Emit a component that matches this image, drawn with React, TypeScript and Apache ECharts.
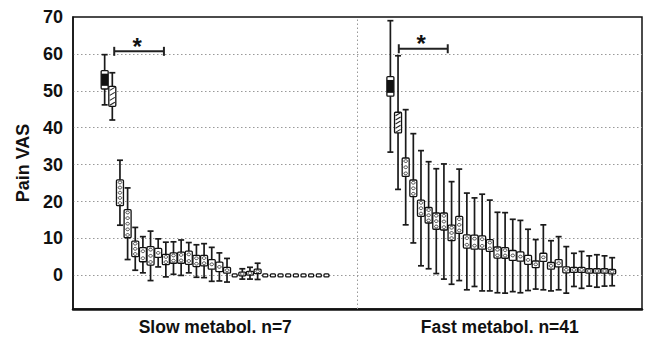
import React, { useEffect, useRef } from "react";
import * as echarts from "echarts";

// Panel (group) labels
const panelLabels = ["Slow metabol. n=7", "Fast metabol. n=41"];
const yAxisName = "Pain VAS";

// Slow metabolizers: mean, SE (box half-height), SD (whisker half-length) per time point
const slowMean = [53, 48.5, 22.4, 14, 7.2, 5.6, 5.3, 6.1, 4.3, 4.7, 4.8, 4.8, 3.9, 4.0, 3.0, 2.3, 1.4, 0, 0.4, 0.6, 1.1, 0, 0, 0, 0, 0, 0, 0, 0, 0];
const slowSE = [2.5, 2.7, 3.5, 3.8, 2.1, 1.9, 2.5, 1.2, 1.4, 1.4, 1.5, 1.8, 1.5, 1.4, 1.3, 1.3, 0.8, 0.4, 0.5, 0.5, 0.6, 0.4, 0.4, 0.4, 0.4, 0.4, 0.4, 0.4, 0.4, 0.4];
const slowSD = [6.8, 6.4, 8.8, 9.7, 5.8, 4.9, 6.7, 3.8, 4.7, 4.4, 4.8, 4.1, 4.4, 4.6, 4.6, 3.8, 3.2, 0, 1.4, 1.6, 2.2, 0, 0, 0, 0, 0, 0, 0, 0, 0];

// Fast metabolizers
const fastMean = [51.2, 41.4, 29.3, 23.6, 18.2, 16.3, 14.7, 14.6, 11.5, 13.7, 9.2, 9.0, 8.9, 8.1, 6.2, 6.1, 5.4, 5.1, 4.2, 3.0, 4.9, 2.6, 3.3, 1.5, 1.5, 1.5, 1.2, 1.2, 1.2, 1.0];
const fastSE = [2.65, 2.8, 2.5, 2.25, 2.2, 2.1, 2.2, 2.3, 2.1, 2.3, 1.8, 1.9, 1.8, 1.6, 1.5, 1.45, 1.35, 1.25, 1.2, 0.9, 1.1, 0.9, 1.0, 0.8, 0.7, 0.7, 0.6, 0.6, 0.6, 0.6];
const fastSD = [17.8, 18.1, 15.6, 14.8, 15.6, 14.5, 14.2, 15.6, 13.9, 15.1, 13.1, 12.0, 13.1, 12.3, 10.9, 10.9, 9.8, 9.8, 8.3, 6.7, 8.8, 6.8, 7.2, 6.3, 4.5, 5.0, 4.1, 4.4, 4.1, 3.8];

// Significance brackets: [panel, from time index, to time index, y value]
const sigBrackets = [
  [0, 1.25, 7.75, 60.7],
  [1, 1.1, 7.5, 61.4],
];
const sigText = "*";

// layout (axis units)
const PANEL_W = 37.2;
const FIRST_OFFSET = [4.14, 4.3];
const X_MAX = PANEL_W * 2;
const FONT = "'Liberation Sans', Arial, sans-serif";

function buildPoints(mean: number[], se: number[], sd: number[], panel: number) {
  return mean.map((m, i) => [panel * PANEL_W + FIRST_OFFSET[panel] + i, m, se[i], sd[i], i]);
}

function renderBox(params: any, api: any) {
  const x = api.value(0);
  const m = api.value(1);
  const se = api.value(2);
  const sd = api.value(3);
  const idx = api.value(4);
  const [cx, cy] = api.coord([x, m]);
  const children: any[] = [];
  const stroke = "#1a1a1a";
  if (sd > 0) {
    const yt = api.coord([x, m + sd])[1];
    const yb = api.coord([x, m - sd])[1];
    children.push({ type: "line", shape: { x1: cx, y1: yt, x2: cx, y2: yb }, style: { stroke, lineWidth: 1.7 } });
    children.push({ type: "line", shape: { x1: cx - 3, y1: yt, x2: cx + 3, y2: yt }, style: { stroke, lineWidth: 1.7 } });
    children.push({ type: "line", shape: { x1: cx - 3, y1: yb, x2: cx + 3, y2: yb }, style: { stroke, lineWidth: 1.7 } });
  }
  const bt = api.coord([x, m + se])[1];
  const bb = api.coord([x, m - se])[1];
  let h = Math.max(bb - bt, 3);
  const top = cy - h / 2;
  const bw = sd > 0 ? 7 : 5;
  children.push({ type: "rect", shape: { x: cx - bw / 2, y: top, width: bw, height: h, r: 1 }, style: { fill: "#fff", stroke: "#111", lineWidth: 1.3 } });
  if (idx === 0) {
    children.push({ type: "rect", shape: { x: cx - bw / 2, y: top + h * 0.17, width: bw, height: h * 0.66 }, style: { fill: "#111" } });
  } else if (idx === 1) {
    const n = Math.max(2, Math.floor(h / 4));
    for (let k = 0; k < n; k++) {
      const yy = top + ((k + 0.5) * h) / n;
      children.push({ type: "line", shape: { x1: cx - 2.5, y1: yy + 1.5, x2: cx + 2.5, y2: yy - 1.5 }, style: { stroke: "#222", lineWidth: 1.1 } });
    }
  } else if (sd > 0) {
    const n = Math.max(1, Math.floor(h / 5));
    for (let k = 0; k < n; k++) {
      const yy = top + ((k + 0.5) * h) / n;
      children.push({ type: "ellipse", shape: { cx, cy: yy, rx: 1.8, ry: 1.4 }, style: { fill: "#fff", stroke: "#333", lineWidth: 0.9 } });
    }
  }
  return { type: "group", children };
}

function renderBracket(params: any, api: any) {
  const x1 = api.value(0);
  const x2 = api.value(1);
  const y = api.value(2);
  const p1 = api.coord([x1, y]);
  const p2 = api.coord([x2, y]);
  const stroke = "#222";
  return {
    type: "group",
    children: [
      { type: "line", shape: { x1: p1[0], y1: p1[1], x2: p2[0], y2: p2[1] }, style: { stroke, lineWidth: 2 } },
      { type: "line", shape: { x1: p1[0], y1: p1[1] - 4.5, x2: p1[0], y2: p1[1] + 4.5 }, style: { stroke, lineWidth: 2 } },
      { type: "line", shape: { x1: p2[0], y1: p2[1] - 4.5, x2: p2[0], y2: p2[1] + 4.5 }, style: { stroke, lineWidth: 2 } },
      {
        type: "text",
        x: (p1[0] + p2[0]) / 2 - 2,
        y: p1[1] - 5,
        style: { text: sigText, fontSize: 24, fontWeight: "bold", fontFamily: FONT, fill: "#111", align: "center", verticalAlign: "middle" },
      },
    ],
  };
}

export default function App() {
  const ref = useRef<HTMLDivElement>(null);
  useEffect(() => {
    if (!ref.current) return;
    const chart = echarts.init(ref.current, undefined, { renderer: "svg" });
    const bracketData = sigBrackets.map(([p, a, b, y]) => [
      p * PANEL_W + FIRST_OFFSET[p] + a,
      p * PANEL_W + FIRST_OFFSET[p] + b,
      y,
    ]);
    chart.setOption({
      animation: false,
      backgroundColor: "#fff",
      grid: { left: 73, right: 6, top: 17, bottom: 29, show: true, borderColor: "#111", borderWidth: 1.5, backgroundColor: "transparent" },
      xAxis: {
        type: "value",
        min: 0,
        max: X_MAX,
        interval: PANEL_W / 2,
        axisLine: { show: true, onZero: false, lineStyle: { color: "#111", width: 2.5 } },
        axisTick: { show: false },
        splitLine: { show: false },
        axisLabel: {
          margin: 9,
          fontFamily: FONT,
          fontWeight: "bold",
          fontSize: 17.5,
          color: "#111",
          showMinLabel: false,
          showMaxLabel: false,
          formatter: (v: number) => {
            const k = Math.round(v / (PANEL_W / 2));
            if (k === 1) return panelLabels[0];
            if (k === 3) return panelLabels[1];
            return "";
          },
        },
      },
      yAxis: {
        type: "value",
        min: -9.1,
        max: 70,
        splitNumber: 8,
        name: yAxisName,
        nameLocation: "middle",
        nameGap: 40,
        nameTextStyle: { fontFamily: FONT, fontWeight: "bold", fontSize: 18, color: "#111" },
        axisLine: { show: true, lineStyle: { color: "#111", width: 1.5 } },
        axisTick: { show: false },
        axisLabel: {
          margin: 10,
          fontFamily: FONT,
          fontWeight: "bold",
          fontSize: 18,
          color: "#111",
          showMinLabel: false,
          formatter: (v: number) => (Math.abs(v % 10) < 1e-6 ? String(v) : ""),
        },
        splitLine: { show: true, showMinLine: false, showMaxLine: false, lineStyle: { color: "#999", type: [1.5, 2.5], width: 1 } },
      },
      series: [
        {
          type: "custom",
          renderItem: renderBox,
          data: buildPoints(slowMean, slowSE, slowSD, 0),
          encode: { x: 0, y: 1 },
          markLine: {
            silent: true,
            symbol: "none",
            label: { show: false },
            lineStyle: { color: "#999", type: [1.5, 2.5], width: 1 },
            data: [{ xAxis: PANEL_W }],
          },
          z: 3,
        },
        {
          type: "custom",
          renderItem: renderBox,
          data: buildPoints(fastMean, fastSE, fastSD, 1),
          encode: { x: 0, y: 1 },
          z: 3,
        },
        {
          type: "custom",
          renderItem: renderBracket,
          data: bracketData,
          encode: { x: [0, 1], y: 2 },
          z: 4,
        },
      ],
    });
    return () => chart.dispose();
  }, []);
  return <div ref={ref} style={{ position: "fixed", left: 0, top: 0, width: 648, height: 338, background: "#fff" }} />;
}
